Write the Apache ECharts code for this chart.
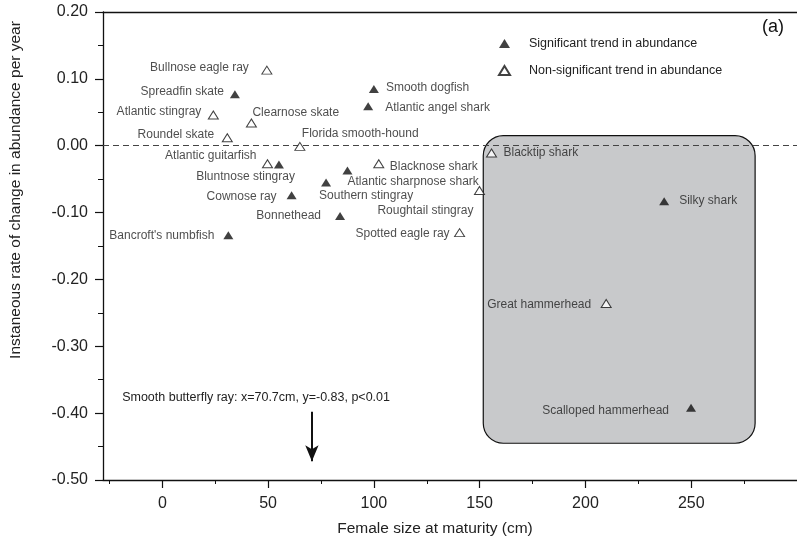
<!DOCTYPE html>
<html>
<head>
<meta charset="utf-8">
<script src="https://cdn.jsdelivr.net/npm/echarts@6/dist/echarts.min.js"></script>
<style>
  html, body { margin: 0; padding: 0; background: #fff; }
  #chart { width: 797px; height: 543px; }
</style>
</head>
<body>
<div id="chart"></div>
<script>
// Species with a significant trend in abundance
const sigNames = ['Spreadfin skate', 'Smooth dogfish', 'Atlantic angel shark', 'Bluntnose stingray',
  'Atlantic sharpnose shark', 'Southern stingray', 'Cownose ray', 'Bonnethead',
  "Bancroft's numbfish", 'Silky shark', 'Scalloped hammerhead'];
const sigSize = [34.3, 100.0, 97.3, 55.1, 87.5, 77.4, 61.1, 84.0, 31.2, 237.2, 249.9];
const sigRate = [0.077, 0.085, 0.059, -0.028, -0.037, -0.055, -0.074, -0.105, -0.134, -0.083, -0.392];

// Species with a non-significant trend in abundance
const nsNames = ['Bullnose eagle ray', 'Atlantic stingray', 'Clearnose skate', 'Roundel skate',
  'Florida smooth-hound', 'Atlantic guitarfish', 'Blacknose shark', 'Roughtail stingray',
  'Spotted eagle ray', 'Blacktip shark', 'Great hammerhead'];
const nsSize = [49.4, 24.1, 42.1, 30.7, 65.0, 49.7, 102.3, 149.9, 140.5, 155.6, 209.8];
const nsRate = [0.113, 0.046, 0.034, 0.012, -0.001, -0.027, -0.027, -0.067, -0.130, -0.011, -0.236];

// Axis ticks
const xTicks = [0, 50, 100, 150, 200, 250];
const xMinorTicks = [-25, 25, 75, 125, 175, 225, 275];
const yMin = -0.5, yMax = 0.2, yStep = 0.1;

// Off-scale species, shown as an arrow at its size
const offScaleName = 'Smooth butterfly ray';
const offScaleSize = 70.7;
const offScaleRate = -0.83;
const offScaleP = 'p<0.01';

// Large sharks region (data space)
const sharkBox = { x0: 151.7, x1: 280.2, y0: 0.015, y1: -0.445 };

const FONT = '"Liberation Sans", Arial, Helvetica, sans-serif';
const INK = '#111';
const X_MIN = -28.05, X_MAX = 300;

// label placement next to each marker: [dx, dy, align]
const labelPlace = {
  'Bullnose eagle ray': [-18, -2, 'right'],
  'Spreadfin skate': [-11, -3, 'right'],
  'Atlantic stingray': [-12, -3, 'right'],
  'Clearnose skate': [1, -10, 'left'],
  'Roundel skate': [-13, -3, 'right'],
  'Atlantic guitarfish': [-11, -8, 'right'],
  'Bluntnose stingray': [16, 12, 'right'],
  'Cownose ray': [-15, 1, 'right'],
  'Bonnethead': [-19, 0, 'right'],
  "Bancroft's numbfish": [-14, 0, 'right'],
  'Florida smooth-hound': [2, -13, 'left'],
  'Smooth dogfish': [12, -1, 'left'],
  'Atlantic angel shark': [17, 1, 'left'],
  'Blacknose shark': [11, 3, 'left'],
  'Atlantic sharpnose shark': [0, 11, 'left'],
  'Southern stingray': [-7, 13, 'left'],
  'Roughtail stingray': [-6, 20, 'right'],
  'Spotted eagle ray': [-10, 1, 'right'],
  'Blacktip shark': [12, 0, 'left'],
  'Silky shark': [15, -1, 'left'],
  'Great hammerhead': [-15, 1, 'right'],
  'Scalloped hammerhead': [-22, 3, 'right']
};

function points(names, xs, ys) {
  return names.map((n, i) => {
    const p = labelPlace[n] || [8, 0, 'left'];
    return {
      name: n,
      value: [xs[i], ys[i]],
      label: {
        show: true, position: 'inside', align: p[2], verticalAlign: 'middle',
        offset: [p[0], p[1]], formatter: n,
        fontSize: 12, color: '#222', fontFamily: FONT
      }
    };
  });
}

const chart = echarts.init(document.getElementById('chart'));

const baseX = { type: 'value', gridIndex: 0, min: X_MIN, max: X_MAX, splitLine: { show: false } };

chart.setOption({
  animation: false,
  backgroundColor: '#fff',
  textStyle: { fontFamily: FONT },
  title: {
    text: '(a)', left: 762, top: 18, padding: 0,
    textStyle: { fontSize: 18, fontWeight: 'normal', color: INK, fontFamily: FONT }
  },
  legend: {
    orient: 'vertical', left: 498, top: 37, padding: 0,
    itemWidth: 11, itemHeight: 9, itemGap: 14,
    textStyle: { fontSize: 12.5, color: '#222', fontFamily: FONT, padding: [0, 0, 0, 14] },
    data: ['Significant trend in abundance', 'Non-significant trend in abundance']
  },
  grid: { left: 101, top: 12, width: 701.7, height: 468, containLabel: false },
  xAxis: [
    Object.assign({}, baseX, {
      position: 'bottom',
      axisLine: { show: true, onZero: false, lineStyle: { color: INK, width: 1.3 } },
      axisTick: { show: true, length: 8, customValues: xTicks, lineStyle: { color: INK, width: 1.2 } },
      axisLabel: { customValues: xTicks, fontSize: 16, color: '#222', margin: 16, fontFamily: FONT },
      name: 'Female size at maturity (cm)', nameLocation: 'middle', nameGap: 41,
      nameTextStyle: { fontSize: 15.5, color: '#222', fontFamily: FONT, padding: [0, 30, 0, 0] }
    }),
    Object.assign({}, baseX, {
      position: 'bottom',
      axisLine: { show: false, onZero: false },
      axisTick: { show: true, length: 4, customValues: xMinorTicks, lineStyle: { color: INK, width: 1 } },
      axisLabel: { show: false }
    }),
    Object.assign({}, baseX, {
      position: 'top',
      axisLine: { show: true, onZero: false, lineStyle: { color: INK, width: 1.3 } },
      axisTick: { show: false },
      axisLabel: { show: false }
    })
  ],
  yAxis: {
    type: 'value', min: yMin, max: yMax, interval: yStep,
    position: 'left',
    splitLine: { show: false },
    axisLine: { show: true, onZero: false, lineStyle: { color: INK, width: 1.3 } },
    axisTick: { show: true, length: 8, lineStyle: { color: INK, width: 1.2 } },
    minorTick: { show: true, splitNumber: 2, length: 5, lineStyle: { color: INK, width: 1 } },
    axisLabel: { fontSize: 16, color: '#222', margin: 15, fontFamily: FONT, formatter: v => v.toFixed(2) },
    name: 'Instaneous rate of change in abundance per year',
    nameLocation: 'middle', nameGap: 79,
    nameTextStyle: { fontSize: 15.5, color: '#222', fontFamily: FONT, padding: [0, 0, 0, 112] }
  },
  series: [
    {
      name: '_zero', type: 'scatter', data: [], z: 0, silent: true,
      markLine: {
        silent: true, symbol: 'none', animation: false,
        label: { show: false },
        lineStyle: { type: [6, 4], color: '#444', width: 1 },
        data: [{ yAxis: 0 }]
      }
    },
    {
      name: 'Significant trend in abundance', type: 'scatter', z: 5,
      symbol: 'triangle', symbolSize: [10, 8],
      itemStyle: { color: INK },
      data: points(sigNames, sigSize, sigRate)
    },
    {
      name: 'Non-significant trend in abundance', type: 'scatter', z: 5,
      symbol: 'triangle', symbolSize: [10, 8],
      itemStyle: { color: '#fff', borderColor: INK, borderWidth: 1 },
      data: points(nsNames, nsSize, nsRate)
    },
    {
      name: '_arrow', type: 'scatter', data: [], z: 5, silent: true,
      markLine: {
        silent: true, animation: false,
        symbol: ['none', 'arrow'], symbolSize: [10, 16],
        label: { show: false },
        lineStyle: { type: 'solid', color: INK, width: 2 },
        data: [[{ coord: [offScaleSize, -0.398] }, { coord: [offScaleSize, -0.472] }]]
      }
    }
  ]
});

// shaded rounded region and the off-scale note, placed through the data scales
const a = chart.convertToPixel({ seriesIndex: 1 }, [sharkBox.x0, sharkBox.y0]);
const b = chart.convertToPixel({ seriesIndex: 1 }, [sharkBox.x1, sharkBox.y1]);
const note = chart.convertToPixel({ seriesIndex: 1 }, [-19, -0.376]);

chart.setOption({
  graphic: [
    {
      type: 'rect', z: 1, silent: true,
      shape: { x: a[0], y: a[1], width: b[0] - a[0], height: b[1] - a[1], r: 20 },
      style: { fill: '#c8c9cb', stroke: INK, lineWidth: 1.2 }
    },
    {
      type: 'text', z: 6, silent: true,
      x: note[0], y: note[1],
      style: {
        text: offScaleName + ': x=' + offScaleSize + 'cm, y=' + offScaleRate.toFixed(2) + ', ' + offScaleP,
        fontSize: 12.5, fill: '#222', fontFamily: FONT,
        align: 'left', verticalAlign: 'middle'
      }
    }
  ]
});
</script>
</body>
</html>
